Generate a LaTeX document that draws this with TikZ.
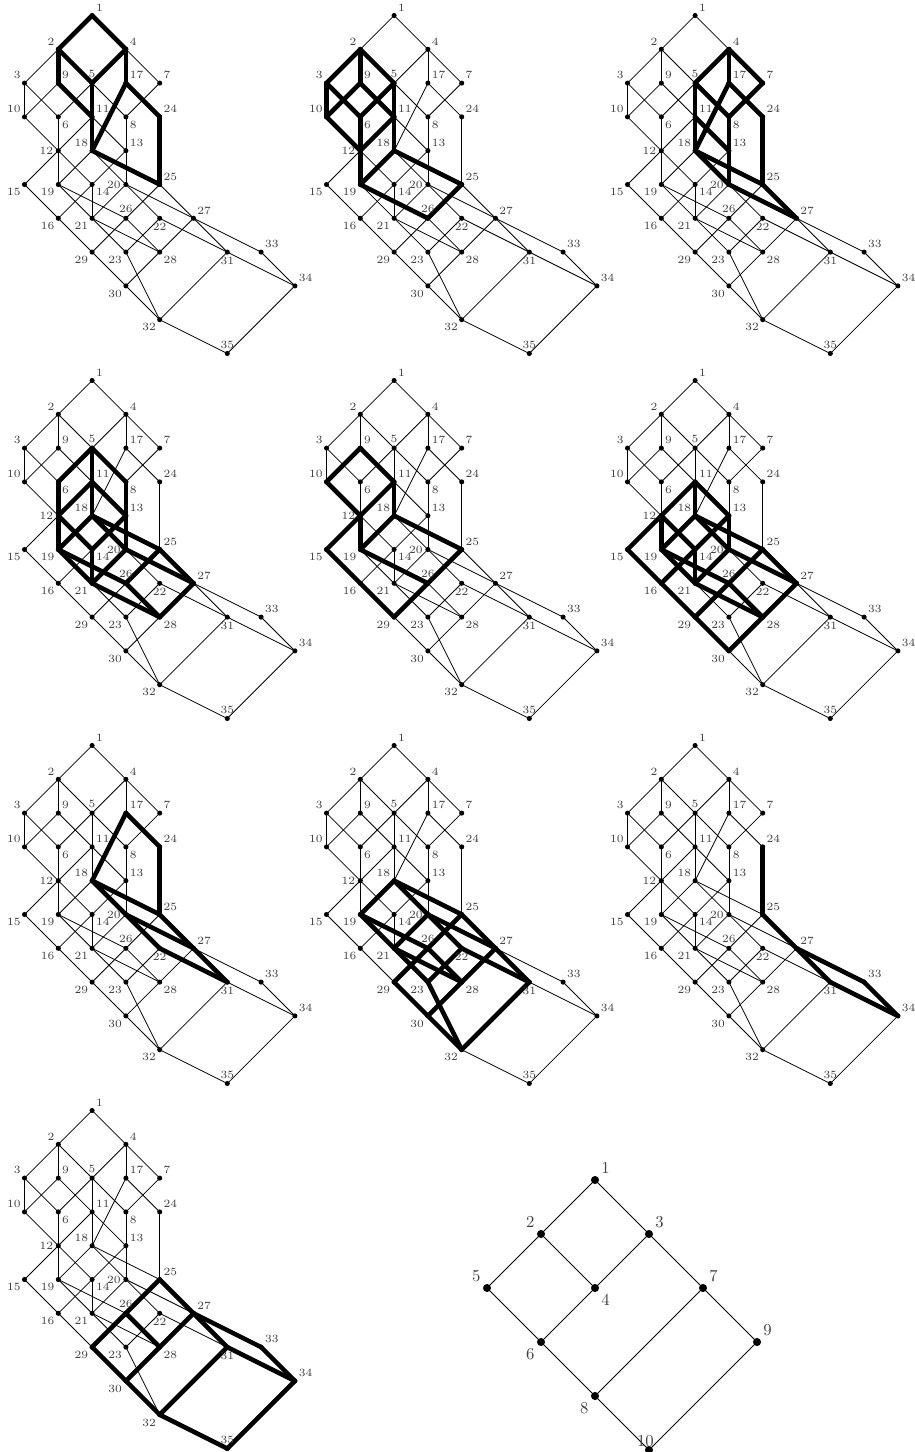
\documentclass[tikz,border=0pt]{standalone}
\pgfdeclarelayer{bg}
\pgfsetlayers{bg,main}
\tikzset{
  dot/.style={circle, fill=black, inner sep=0pt, minimum size=2.9pt},
  lab/.style={font=\fontsize{6.3}{7}\selectfont, text=black!75, inner sep=0.3pt},
  bigdot/.style={circle, fill=black, inner sep=0pt, minimum size=4.6pt},
  biglab/.style={font=\fontsize{9.5}{11}\selectfont, text=black!75, inner sep=0.3pt},
  thinedge/.style={line width=0.45pt},
  thickedge/.style={line width=2.6pt, line cap=round, line join=round},
}
\def\nodelist{1/2/0/45, 2/1/1/135, 4/3/1/45, 3/0/2/135, 9/1/2/45, 5/2/2/90, 17/3/2/45, 7/4/2/45,
 10/0/3/135, 6/1/3/-45, 11/2/3/45, 8/3/3/-45, 24/4/3/45, 12/1/4/180, 18/2/4/135, 13/3/4/45,
 15/0/5/-135, 19/1/5/-135, 14/2/5/-45, 20/3/5/180, 25/4/5/45, 16/1/6/-135, 21/2/6/-135, 26/3/6/90,
 22/4/6/-90, 27/5/6/45, 29/2/7/-135, 23/3/7/-135, 28/4/7/-45, 31/6/7/-90, 33/7/7/45, 30/3/8/-135,
 34/8/8/45, 32/4/9/-135, 35/6/10/90}
\def\alledges{1/2,1/4,2/3,2/9,2/5,4/5,4/17,4/7,3/10,3/6,9/10,9/11,5/6,5/11,5/8,17/18,17/24,7/8,
 10/12,6/12,11/12,11/18,11/13,8/13,24/25,12/15,12/19,12/14,18/19,18/20,18/25,13/14,13/20,15/16,
 19/21,19/26,14/16,14/21,20/21,20/22,20/27,25/26,25/27,16/29,21/23,21/28,26/29,26/28,22/23,22/31,
 27/28,27/31,27/33,29/30,23/32,28/30,31/32,31/34,33/34,30/32,32/35,34/35}
\expandafter\def\csname thk1\endcsname{1/2,1/4,2/9,2/5,4/5,4/17,9/11,5/11,11/18,17/18,17/24,24/25,18/25}
\expandafter\def\csname thk2\endcsname{2/3,2/9,2/5,3/10,3/6,9/10,9/11,5/6,5/11,10/12,6/12,11/12,11/18,12/19,18/19,18/25,19/26,25/26}
\expandafter\def\csname thk3\endcsname{4/5,4/17,4/7,5/11,5/8,17/18,17/24,7/8,11/18,11/13,8/13,13/20,18/20,18/25,24/25,20/27,25/27}
\expandafter\def\csname thk4\endcsname{5/6,5/11,5/8,6/12,11/12,11/18,11/13,8/13,12/19,12/14,18/19,18/20,18/25,13/14,13/20,19/21,19/26,14/21,20/21,20/27,25/26,25/27,21/28,26/28,27/28}
\expandafter\def\csname thk5\endcsname{9/10,9/11,10/12,11/12,11/18,12/15,12/19,18/19,18/25,15/16,16/29,19/26,25/26,26/29}
\expandafter\def\csname thk6\endcsname{11/12,11/13,11/18,12/15,12/19,12/14,18/19,18/20,18/25,13/14,13/20,15/16,19/21,19/26,14/16,14/21,20/21,20/27,25/26,25/27,16/29,21/28,26/29,26/28,27/28,29/30,28/30}
\expandafter\def\csname thk7\endcsname{17/18,17/24,24/25,18/25,18/20,20/22,20/27,25/27,22/31,27/31}
\expandafter\def\csname thk8\endcsname{18/19,18/20,18/25,19/21,19/26,20/21,20/22,20/27,25/26,25/27,21/23,21/28,26/29,26/28,22/23,22/31,27/28,27/31,29/30,23/32,28/30,30/32,31/32}
\expandafter\def\csname thk9\endcsname{24/25,25/27,27/31,27/33,31/34,33/34}
\expandafter\def\csname thk10\endcsname{25/26,25/27,26/29,26/28,27/28,27/31,27/33,29/30,28/30,30/32,31/32,31/34,33/34,32/35,34/35}
\begin{document}
\begin{tikzpicture}[x=0.02cm, y=-0.02cm, label distance=0.8pt]
\useasboundingbox (0,0) rectangle (915,1452);
\clip (0,0) rectangle (915,1452);
\foreach \p/\ox/\oy in {1/0/0, 2/302/0, 3/603/0, 4/0/365, 5/302/365, 6/603/365, 7/0/730, 8/302/730, 9/603/730, 10/0/1095}{
  \foreach \n/\c/\r/\a in \nodelist {
    \node[dot, label={[lab]\a:\n}] (p\p-\n) at ({\ox+24.5+33.8*\c},{\oy+15.5+33.8*\r}) {};
  }
  \begin{pgfonlayer}{bg}
    \foreach \u/\v in \alledges {
      \draw[thinedge] (p\p-\u.center) -- (p\p-\v.center);
    }
    \edef\curlist{\csname thk\p\endcsname}
    \foreach \u/\v in \curlist {
      \draw[thickedge] (p\p-\u.center) -- (p\p-\v.center);
    }
  \end{pgfonlayer}
}
\begin{scope}[label distance=2pt]
  \foreach \n/\c/\r/\a in {1/2/0/45, 2/1/1/135, 3/3/1/45, 5/0/2/135, 4/2/2/-45, 7/4/2/45, 6/1/3/-135, 9/5/3/45, 8/2/4/-135} {
    \node[bigdot, label={[biglab]\a:\n}] (s-\n) at ({487+54*\c},{1180+54*\r}) {};
  }
  \node[bigdot, label={[biglab, xshift=-2pt, yshift=-3pt]90:10}] (s-10) at ({487+54*3},{1180+54*5}) {};
  \begin{pgfonlayer}{bg}
    \foreach \u/\v in {1/2,1/3,2/5,2/4,3/4,3/7,5/6,4/6,6/8,7/8,7/9,8/10,9/10} {
      \draw[line width=0.5pt] (s-\u.center) -- (s-\v.center);
    }
  \end{pgfonlayer}
\end{scope}
\end{tikzpicture}
\end{document}
